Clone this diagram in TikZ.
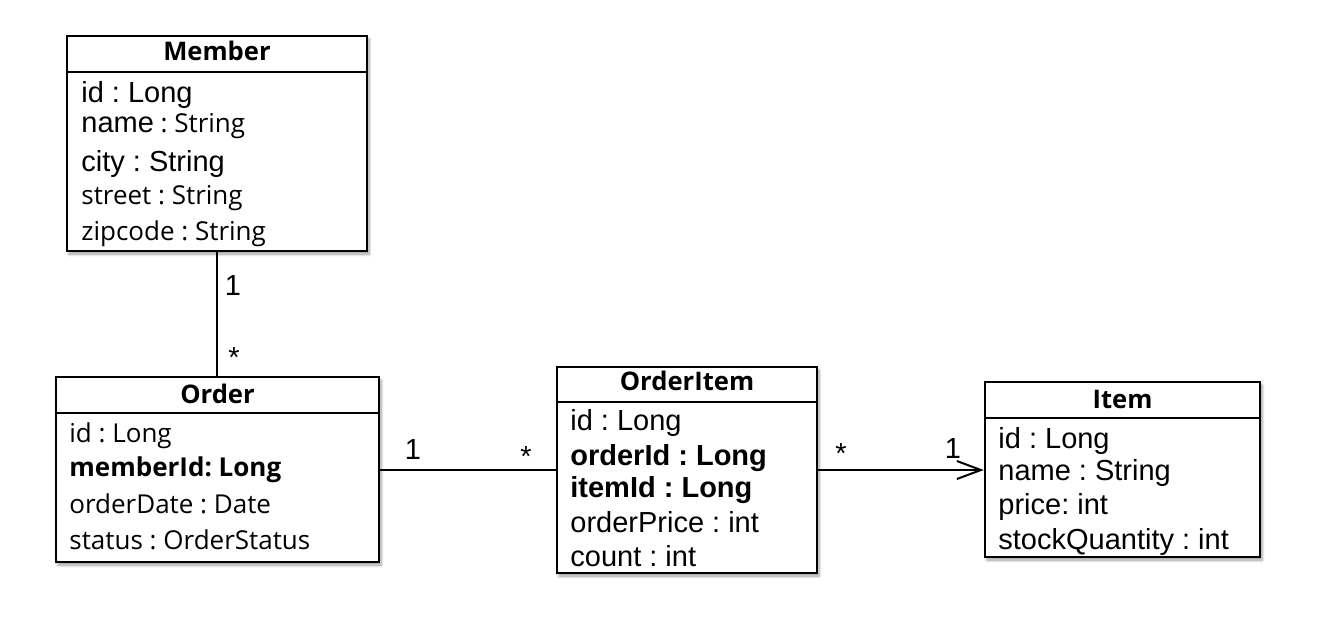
\documentclass[tikz,border=0pt]{standalone}
\usepackage{fontspec}
\setmainfont{Liberation Sans}
\newfontfamily\gothic{Open Sans}
\newcommand{\gthc}{\gothic\fontsize{13}{16}\selectfont}
\frenchspacing
\usetikzlibrary{arrows.meta,fit,shadows.blur}
\tikzset{
  classbox/.style={draw,line width=1.25pt,fill=white,inner sep=0pt,
    blur shadow={shadow blur steps=6,shadow xshift=1pt,shadow yshift=-1.5pt,shadow blur radius=1.5pt}},
  sepline/.style={line width=1.25pt},
  head/.style={anchor=base,inner sep=0pt,font=\gothic\bfseries\fontsize{12.8}{15}\selectfont},
  attr/.style={anchor=base west,inner sep=0pt,font=\fontsize{14.5}{17}\selectfont},
  mult/.style={anchor=base,inner sep=0pt,font=\fontsize{14.5}{17}\selectfont},
  assoc/.style={line width=1pt},
}
\begin{document}
\begin{tikzpicture}[x=.5pt,y=-.5pt]
			\useasboundingbox (0,0) rectangle (1329,617);
			% classes
			\node[classbox,fit={(67,36) (367,251)}] (member) {};
			\node[classbox,fit={(56,377) (379,562)}] (order) {};
			\node[classbox,fit={(557,367) (817,573)}] (orderitem) {};
			\node[classbox,fit={(985,382) (1260,557)}] (item) {};
			\draw[sepline] (member.west |- 0,72) -- (member.east |- 0,72);
			\draw[sepline] (order.west |- 0,413) -- (order.east |- 0,413);
			\draw[sepline] (orderitem.west |- 0,402) -- (orderitem.east |- 0,402);
			\draw[sepline] (item.west |- 0,418) -- (item.east |- 0,418);
			\node[head] (memberhead) at (217,60) {Member};
			\node[head] (orderhead) at (217.5,403) {Order};
			\node[head] (orderitemhead) at (687,390) {OrderItem};
			\node[head] (itemhead) at (1122.5,408) {Item};
			% attributes
			\foreach \y/\t [count=\i] in {102/{id : Long},132/{name{\gthc\ : String}},171/{city : String},204/{\gthc street : String},240/{\gthc zipcode : String}} \node[attr] (member\i) at (81,\y) {\t};
			\foreach \y/\t [count=\i] in {442/{\gthc id : Long},476/{\gthc\bfseries memberId: Long},513/{\gthc orderDate : Date},549/{\gthc status : OrderStatus}} \node[attr] (order\i) at (69,\y) {\t};
			\foreach \y/\t [count=\i] in {430/{id : Long},465/{\bfseries orderId : Long},497/{\bfseries itemId : Long},532/{orderPrice : int},566/{count : int}} \node[attr] (orderitem\i) at (570,\y) {\t};
			\foreach \y/\t [count=\i] in {448/{id : Long},480/{name : String},514/{price: int},549/{stockQuantity : int}} \node[attr] (item\i) at (998,\y) {\t};
			% associations
			\draw[assoc] (member.south) -- (member.south |- order.north);
			\draw[assoc] (order.east |- orderitem.west) -- (orderitem.west);
			\draw[assoc,-{Straight Barb[length=12pt,width=9pt]}] (orderitem.east) -- (item.west |- orderitem.east);
			\node[mult] (memberone) at (233,295) {1};
			\node[mult] (orderstar) at (234,367) {*};
			\node[mult] (orderone) at (413,459) {1};
			\node[mult] (orderitemstar) at (526,466) {*};
			\node[mult] (orderitemstar2) at (841,463) {*};
			\node[mult] (itemone) at (953,458) {1};
		\end{tikzpicture}
\end{document}
